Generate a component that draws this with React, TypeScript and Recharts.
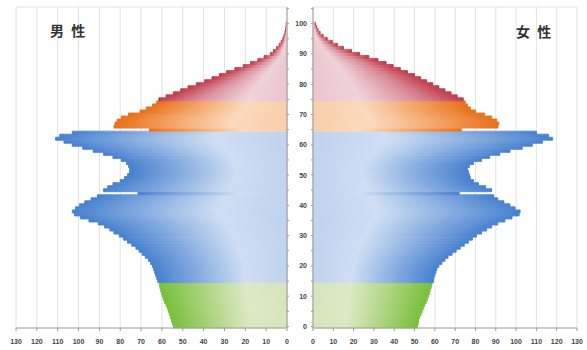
import React from 'react';
import { BarChart, Bar, XAxis, YAxis, CartesianGrid, Cell } from 'recharts';

// Age categories 0..100, padded to 105 so the frame leaves headroom above age 100
const AGES: number[] = Array.from({ length: 106 }, (_, i) => i);

// 男性 (units: 10,000 people), ages 0..100
const MALE: number[] = [
  54.5, 55.0, 55.4, 55.8, 56.3, 56.8, 57.3, 58.0, 58.7, 59.3,
  59.8, 60.2, 60.6, 61.0, 61.3, 62.0, 62.5, 63.0, 63.5, 64.0,
  64.5, 65.5, 66.5, 68.0, 69.5, 71.0, 72.5, 74.5, 76.5, 78.5,
  80.5, 83.0, 85.0, 87.5, 90.5, 95.0, 99.0, 102.0, 103.0, 101.5,
  99.5, 97.0, 94.0, 91.0, 71.5, 88.0, 86.0, 83.5, 80.0, 78.0,
  76.5, 75.5, 75.5, 76.0, 77.0, 79.5, 83.5, 88.0, 93.0, 98.0,
  103.0, 107.0, 111.0, 109.0, 103.0, 66.0, 83.0, 82.5, 81.5, 79.5,
  76.0, 70.5, 67.5, 64.5, 62.5, 61.5, 58.0, 54.5, 51.0, 47.5,
  43.5, 39.5, 36.0, 32.5, 29.0, 25.0, 21.0, 17.5, 14.0, 11.0,
  8.0, 6.5, 5.0, 3.8, 2.8, 2.0, 1.5, 1.0, 0.7, 0.5,
  0.4,
];

// 女性 (units: 10,000 people), ages 0..100
const FEMALE: number[] = [
  51.5, 51.8, 52.0, 52.5, 53.2, 53.8, 54.3, 55.0, 55.7, 56.3,
  56.8, 57.3, 57.7, 58.2, 58.6, 59.3, 59.5, 60.0, 60.5, 61.0,
  62.0, 63.5, 65.0, 66.5, 68.5, 70.5, 72.5, 74.5, 76.5, 78.5,
  80.5, 83.0, 85.5, 88.0, 91.0, 94.5, 98.0, 101.5, 102.0, 99.5,
  97.0, 94.0, 91.0, 89.0, 72.0, 88.0, 85.0, 81.5, 79.0, 77.5,
  77.0, 76.5, 76.0, 77.0, 79.0, 83.0, 87.0, 92.0, 97.0, 103.0,
  108.0, 113.0, 118.0, 116.0, 110.0, 73.0, 91.0, 91.5, 90.5, 88.0,
  84.5, 80.0, 77.5, 76.0, 75.0, 74.0, 71.0, 68.0, 65.0, 62.0,
  59.0, 56.0, 53.0, 50.0, 46.5, 43.0, 39.5, 36.0, 32.0, 27.5,
  23.0, 19.0, 15.0, 12.0, 9.5, 7.0, 5.0, 3.5, 2.5, 1.7,
  1.2,
];

const X_TICKS = [0, 10, 20, 30, 40, 50, 60, 70, 80, 90, 100, 110, 120, 130];
const AGE_LABELS = [0, 10, 20, 30, 40, 50, 60, 70, 80, 90, 100];
const TITLE_MALE = '男 性';
const TITLE_FEMALE = '女 性';

const data = AGES.map((age, i) => ({
  age,
  male: i < MALE.length ? MALE[i] : null,
  female: i < FEMALE.length ? FEMALE[i] : null,
}));

const groupOf = (age: number) =>
  age < 15 ? 'green' : age < 65 ? 'blue' : age < 75 ? 'orange' : 'red';

const GRADS: Record<string, string[]> = {
  green: ['#78bf3a', '#a9d27a', '#dce9c4', '#d6e5bb'],
  blue: ['#4780cf', '#84abe0', '#cfdef3', '#bfd3ed'],
  orange: ['#e8701a', '#f3a264', '#fbd9bd', '#f9cfaa'],
  red: ['#c13a4a', '#da8e9a', '#efd3d9', '#eac5cd'],
};
const OFFSETS = ['0%', '32%', '68%', '100%'];

const FONT = 'Liberation Sans, Arial, sans-serif';
const AXIS_COLOR = '#9a9a9a';
const GRID_COLOR = '#e2e2e2';

function Gradients({ prefix, outerRight }: { prefix: string; outerRight: boolean }) {
  return (
    <defs>
      {Object.keys(GRADS).map((k) => (
        <linearGradient
          key={k}
          id={`${prefix}-${k}`}
          x1={outerRight ? '1' : '0'}
          y1="0"
          x2={outerRight ? '0' : '1'}
          y2="0"
        >
          {GRADS[k].map((c, i) => (
            <stop key={i} offset={OFFSETS[i]} stopColor={c} />
          ))}
        </linearGradient>
      ))}
    </defs>
  );
}

const emptyTick = () => <g />;

const ageTick = (props: any) => {
  const { x, y, payload } = props;
  const v = Number(payload.value);
  if (!AGE_LABELS.includes(v)) return <g />;
  return (
    <text
      x={x}
      y={y}
      dy={2.5}
      textAnchor="end"
      fontSize={7}
      fontWeight={700}
      fill="#444"
      fontFamily={FONT}
    >
      {v}
    </text>
  );
};

const xTickStyle = { fontSize: 7, fill: '#444', fontWeight: 700, fontFamily: FONT };

const topLine = ({ offset }: any) => [offset.top];

export default function App() {
  return (
    <div
      style={{
        position: 'absolute',
        left: 0,
        top: 0,
        width: 587,
        height: 350,
        background: '#ffffff',
        overflow: 'hidden',
      }}
    >
      <div style={{ position: 'absolute', left: 0, top: 0 }}>
        <BarChart
          width={300}
          height={350}
          data={data}
          layout="vertical"
          margin={{ top: 7, right: 0, bottom: 0, left: 16 }}
          barCategoryGap={0}
          barGap={0}
        >
          <Gradients prefix="L" outerRight={false} />
          <CartesianGrid
            stroke={GRID_COLOR}
            vertical
            horizontal
            horizontalCoordinatesGenerator={topLine}
          />
          <XAxis
            type="number"
            domain={[0, 130]}
            ticks={X_TICKS}
            interval={0}
            reversed
            height={22}
            tickSize={3}
            tickMargin={8}
            tick={xTickStyle}
            axisLine={{ stroke: AXIS_COLOR }}
            tickLine={{ stroke: AXIS_COLOR }}
          />
          <YAxis
            type="category"
            dataKey="age"
            orientation="right"
            reversed
            width={13}
            interval={4}
            tickSize={2}
            tick={emptyTick}
            axisLine={{ stroke: AXIS_COLOR }}
            tickLine={{ stroke: AXIS_COLOR }}
          />
          <Bar dataKey="male" isAnimationActive={false}>
            {data.map((d) => (
              <Cell
                key={d.age}
                fill={`url(#L-${groupOf(d.age)})`}
                stroke={`url(#L-${groupOf(d.age)})`}
                strokeWidth={0.9}
              />
            ))}
          </Bar>
        </BarChart>
      </div>

      <div style={{ position: 'absolute', left: 287, top: 0 }}>
        <BarChart
          width={300}
          height={350}
          data={data}
          layout="vertical"
          margin={{ top: 7, right: 10, bottom: 0, left: 0 }}
          barCategoryGap={0}
          barGap={0}
        >
          <Gradients prefix="R" outerRight />
          <CartesianGrid
            stroke={GRID_COLOR}
            vertical
            horizontal
            horizontalCoordinatesGenerator={topLine}
          />
          <XAxis
            type="number"
            domain={[0, 130]}
            ticks={X_TICKS}
            interval={0}
            height={22}
            tickSize={3}
            tickMargin={8}
            tick={xTickStyle}
            axisLine={{ stroke: AXIS_COLOR }}
            tickLine={{ stroke: AXIS_COLOR }}
          />
          <YAxis
            type="category"
            dataKey="age"
            orientation="left"
            reversed
            width={26}
            interval={4}
            tickSize={2}
            tickMargin={4}
            tick={ageTick}
            axisLine={{ stroke: AXIS_COLOR }}
            tickLine={{ stroke: AXIS_COLOR }}
          />
          <Bar dataKey="female" isAnimationActive={false}>
            {data.map((d) => (
              <Cell
                key={d.age}
                fill={`url(#R-${groupOf(d.age)})`}
                stroke={`url(#R-${groupOf(d.age)})`}
                strokeWidth={0.9}
              />
            ))}
          </Bar>
        </BarChart>
      </div>

      <div
        style={{
          position: 'absolute',
          left: 50,
          top: 23,
          fontSize: 14,
          lineHeight: '15px',
          fontWeight: 700,
          letterSpacing: 2,
          color: '#333',
          fontFamily: 'Noto Sans CJK JP, sans-serif',
          whiteSpace: 'pre',
        }}
      >
        {TITLE_MALE}
      </div>
      <div
        style={{
          position: 'absolute',
          left: 516,
          top: 24,
          fontSize: 14,
          lineHeight: '15px',
          fontWeight: 700,
          letterSpacing: 2,
          color: '#333',
          fontFamily: 'Noto Sans CJK JP, sans-serif',
          whiteSpace: 'pre',
        }}
      >
        {TITLE_FEMALE}
      </div>
    </div>
  );
}
